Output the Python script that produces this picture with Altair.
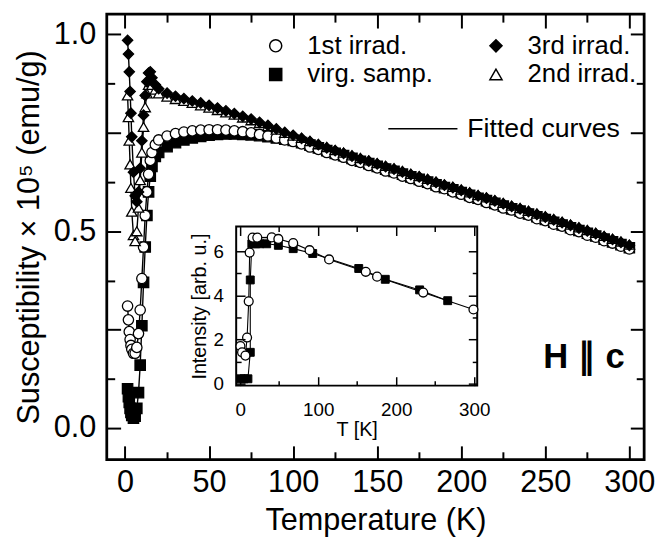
import altair as alt
import pandas as pd

FONT = "Liberation Sans"

# ---------------- main panel data (susceptibility x 1e5, emu/g) ----------------
T_LOW = [1.5, 2, 2.5, 3, 3.5, 4, 5, 6, 7, 8, 9, 10, 11, 12, 13, 14, 15, 16, 18]
T_MID = [20, 25, 30, 35, 40, 45, 50, 55, 60, 65, 70, 75, 80, 85, 90, 95]
T_HIGH = [100, 105, 110, 115, 120, 125, 130, 135, 140, 145, 150, 155, 160, 165,
          170, 175, 180, 185, 190, 195, 200, 205, 210, 215, 220, 225, 230, 235,
          240, 245, 250, 255, 260, 265, 270, 275, 280, 285, 290, 295, 300]

FIRST_LOW = [0.31, 0.275, 0.245, 0.225, 0.21, 0.20, 0.19, 0.19, 0.205, 0.24, 0.30,
             0.38, 0.46, 0.54, 0.60, 0.645, 0.68, 0.70, 0.72]
FIRST_MID = [0.732, 0.742, 0.748, 0.752, 0.755, 0.757, 0.758, 0.758, 0.757, 0.755,
             0.753, 0.75, 0.746, 0.742, 0.737, 0.732]
FIRST_HIGH = [0.728, 0.722, 0.714, 0.708, 0.700, 0.694, 0.688, 0.680, 0.675, 0.667,
              0.661, 0.653, 0.648, 0.640, 0.634, 0.627, 0.621, 0.613, 0.608, 0.600,
              0.594, 0.586, 0.581, 0.573, 0.567, 0.559, 0.554, 0.546, 0.541, 0.532,
              0.527, 0.518, 0.513, 0.504, 0.499, 0.490, 0.485, 0.476, 0.470, 0.462, 0.455]

VIRG_LOW = [0.10, 0.08, 0.065, 0.05, 0.04, 0.032, 0.025, 0.03, 0.05, 0.09, 0.16,
            0.26, 0.37, 0.46, 0.54, 0.60, 0.64, 0.665, 0.69]
VIRG_MID = [0.70, 0.715, 0.725, 0.732, 0.737, 0.741, 0.744, 0.746, 0.747, 0.747,
            0.746, 0.745, 0.743, 0.740, 0.737, 0.734]
VIRG_HIGH = [0.731, 0.725, 0.719, 0.712, 0.705, 0.698, 0.692, 0.685, 0.678, 0.672,
             0.665, 0.658, 0.652, 0.645, 0.638, 0.632, 0.625, 0.618, 0.611, 0.605,
             0.598, 0.591, 0.584, 0.578, 0.571, 0.564, 0.557, 0.551, 0.544, 0.537,
             0.530, 0.523, 0.516, 0.509, 0.502, 0.495, 0.488, 0.480, 0.473, 0.466, 0.458]

THIRD_LOW = [0.985, 0.95, 0.905, 0.855, 0.80, 0.74, 0.65, 0.59, 0.575, 0.60, 0.66,
             0.73, 0.795, 0.845, 0.88, 0.902, 0.905, 0.89, 0.872]
THIRD_MID = [0.862, 0.851, 0.843, 0.837, 0.831, 0.826, 0.82, 0.813, 0.806, 0.799,
             0.792, 0.785, 0.777, 0.769, 0.76, 0.751]
THIRD_HIGH = [0.744, 0.736, 0.728, 0.720, 0.712, 0.705, 0.698, 0.691, 0.684, 0.678,
              0.671, 0.664, 0.658, 0.651, 0.644, 0.638, 0.631, 0.624, 0.617, 0.611,
              0.604, 0.597, 0.590, 0.584, 0.577, 0.570, 0.563, 0.557, 0.550, 0.543,
              0.536, 0.529, 0.522, 0.515, 0.508, 0.501, 0.494, 0.486, 0.479, 0.472, 0.464]

SECOND_LOW = [0.845, 0.79, 0.73, 0.67, 0.61, 0.55, 0.49, 0.475, 0.50, 0.56, 0.63,
              0.70, 0.765, 0.815, 0.85, 0.872, 0.88, 0.872, 0.86]
SECOND_MID = [0.85, 0.842, 0.836, 0.831, 0.826, 0.82, 0.814, 0.808, 0.802, 0.796,
              0.789, 0.782, 0.775, 0.767, 0.758, 0.75]
SECOND_HIGH = [0.743, 0.737, 0.729, 0.721, 0.714, 0.706, 0.700, 0.693, 0.686, 0.680,
               0.673, 0.666, 0.660, 0.653, 0.646, 0.640, 0.633, 0.626, 0.619, 0.613,
               0.606, 0.599, 0.592, 0.586, 0.579, 0.572, 0.565, 0.559, 0.552, 0.545,
               0.538, 0.531, 0.524, 0.517, 0.510, 0.503, 0.496, 0.488, 0.481, 0.474, 0.466]

# legend order (legend fills column by column)
SERIES = ["1st irrad.", "virg. samp.", "3rd irrad.", "2nd irrad."]
SHAPES = ["circle", "square", "diamond", "triangle-up"]
FILLS = ["white", "black", "black", "white"]

# ---------------- inset data (intensity, arb. u.) ----------------
IN_CIRC_T = [0.4, 2.5, 6.8, 8.9, 11, 12.2, 16, 22, 40.5, 49, 68, 89, 114, 161, 175.5, 234.6, 299]
IN_CIRC_I = [1.70, 1.42, 1.27, 2.09, 3.73, 5.94, 6.62, 6.62, 6.63, 6.56, 6.37, 6.05, 5.63,
             5.07, 4.85, 4.13, 3.36]
IN_SQ_T = [1, 5, 10, 13, 13, 15, 20, 25, 34, 49, 68, 93, 152, 186, 230, 266]
IN_SQ_I = [0.22, 0.22, 0.22, 1.42, 4.70, 6.34, 6.34, 6.34, 6.34, 6.27, 6.12, 5.90, 5.22,
           4.73, 4.25, 3.76]

# ticks
X_MAJOR = [0, 50, 100, 150, 200, 250, 300]
X_MINOR = [25, 75, 125, 175, 225, 275]
Y_MAJOR = [0, 0.25, 0.5, 0.75, 1.0]
Y_MINOR = [0.125, 0.375, 0.625, 0.875]
IX_MAJOR = [0, 100, 200, 300]
IX_MINOR = [50, 150, 250]
IY_MAJOR = [0, 2, 4, 6]
IY_MINOR = [1, 3, 5]

# ---------------- tables ----------------
rows = []
T_ALL = T_LOW + T_MID + T_HIGH
for name, lo, mid, hi in [
    ("virg. samp.", VIRG_LOW, VIRG_MID, VIRG_HIGH),
    ("1st irrad.", FIRST_LOW, FIRST_MID, FIRST_HIGH),
    ("2nd irrad.", SECOND_LOW, SECOND_MID, SECOND_HIGH),
    ("3rd irrad.", THIRD_LOW, THIRD_MID, THIRD_HIGH),
]:
    for t, v in zip(T_ALL, lo + mid + hi):
        rows.append({"T": t, "chi": v, "series": name, "fit": "Fitted curves"})
main_df = pd.DataFrame(rows)

irows = []
for i, (t, v) in enumerate(zip(IN_SQ_T, IN_SQ_I)):
    irows.append({"t": t, "v": v, "kind": "sq", "idx": i})
for i, (t, v) in enumerate(zip(IN_CIRC_T, IN_CIRC_I)):
    irows.append({"t": t, "v": v, "kind": "circ", "idx": i})
inset_df = pd.DataFrame(irows)

XI_DOM = [-5.06, 303.8]
YI_DOM = [-0.09, 7.12]
frame_df = pd.DataFrame([{"t": XI_DOM[0], "t2": XI_DOM[1], "v": YI_DOM[0], "v2": YI_DOM[1]}])
hc_df = pd.DataFrame([{"T": 273, "chi": 0.18}])

W, H = 544, 451
XS = alt.Scale(domain=[-10.87, 308.8], nice=False, zero=False)
YS = alt.Scale(domain=[-0.0803, 1.0514], nice=False, zero=False)
XIS = alt.Scale(domain=XI_DOM, range=[131, 375], nice=False, zero=False)
YIS = alt.Scale(domain=YI_DOM, range=[376, 215], nice=False, zero=False)


def ax(orient, values, size, extra=0, width=2, **kw):
    opts = dict(orient=orient, values=values, tickSize=size, offset=-(size + extra),
                domain=False, grid=False, ticks=True, tickColor="black", tickWidth=width,
                zindex=2, labelFlush=False, labelOverlap=False)
    if "title" not in kw:
        opts["title"] = None
    if "labels" not in kw:
        opts["labels"] = False
    opts.update(kw)
    return alt.Axis(**opts)


def MX(axis):
    return alt.X("T:Q", scale=XS, axis=axis)


def MY(axis):
    return alt.Y("chi:Q", scale=YS, axis=axis)


def sym_legend():
    return alt.Legend(title=None, orient="none", legendX=158, legendY=19, columns=2,
                      labelFont=FONT, labelFontSize=26, labelColor="black", labelOffset=19,
                      columnPadding=50, rowPadding=3, symbolSize=150,
                      symbolStrokeWidth=1.5, padding=0, labelLimit=300)


lines = alt.Chart(main_df).mark_line(strokeWidth=1.4).encode(
    x=MX(ax("bottom", X_MAJOR, 14, labels=True, title="Temperature (K)",
            labelFont=FONT, labelFontSize=31, labelColor="black", labelPadding=8,
            titleFont=FONT, titleFontSize=31, titleColor="black", titleFontWeight="normal",
            titlePadding=9)),
    y=MY(ax("left", Y_MAJOR, 14, labels=True, title="Susceptibility × 10⁵ (emu/g)",
            labelExpr="(datum.value == 0 || datum.value == 0.5 || datum.value == 1) ? format(datum.value, '.1f') : ''",
            labelFont=FONT, labelFontSize=31, labelColor="black", labelPadding=11,
            titleFont=FONT, titleFontSize=31, titleColor="black", titleFontWeight="normal",
            titlePadding=8)),
    detail="series:N",
    color=alt.Color("fit:N", scale=alt.Scale(domain=["Fitted curves"], range=["black"]),
                    legend=alt.Legend(title=None, orient="none", legendX=284, legendY=80,
                                      labelFont=FONT, labelFontSize=27, labelColor="black",
                                      labelOffset=9, symbolSize=4900, symbolStrokeWidth=1.5,
                                      padding=0, labelLimit=300)),
)

points = alt.Chart(main_df).mark_point(filled=True, opacity=1, strokeWidth=1.3, size=110).encode(
    x=MX(ax("bottom", X_MINOR, 8)),
    y=MY(ax("left", Y_MINOR, 8)),
    shape=alt.Shape("series:N", scale=alt.Scale(domain=SERIES, range=SHAPES), legend=sym_legend()),
    fill=alt.Fill("series:N", scale=alt.Scale(domain=SERIES, range=FILLS), legend=sym_legend()),
    stroke=alt.Stroke("series:N", scale=alt.Scale(domain=SERIES, range=["black"] * 4),
                      legend=sym_legend()),
)

top_major = alt.Chart(main_df).mark_point(opacity=0).encode(
    x=MX(ax("top", X_MAJOR, 14)), y=MY(ax("right", Y_MAJOR, 14)))
top_minor = alt.Chart(main_df).mark_point(opacity=0).encode(
    x=MX(ax("top", X_MINOR, 8)), y=MY(ax("right", Y_MINOR, 8)))

hc = alt.Chart(hc_df).mark_text(text="H ∥ c", font=FONT, fontSize=35, fontWeight="bold",
                                color="black", align="center", baseline="middle").encode(
    x=alt.X("T:Q", scale=XS, axis=None), y=alt.Y("chi:Q", scale=YS, axis=None))

main = alt.layer(lines, points, top_major, top_minor, hc).resolve_axis(x="independent", y="independent")

# ---------------- inset ----------------
IB = H - 376  # gap between plot bottom and inset bottom
IT = 215
IL = 131
IR = W - 375


def IX(axis):
    return alt.X("t:Q", scale=XIS, axis=axis)


def IY(axis):
    return alt.Y("v:Q", scale=YIS, axis=axis)


frame = alt.Chart(frame_df).mark_rect(fill="white", stroke="black", strokeWidth=2).encode(
    x=IX(ax("bottom", IX_MAJOR, 9, extra=IB, width=1.5, labels=True, title="T [K]",
            labelFont=FONT, labelFontSize=19, labelColor="black", labelPadding=15,
            titleFont=FONT, titleFontSize=20, titleColor="black", titleFontWeight="normal",
            titlePadding=1)),
    x2="t2:Q",
    y=IY(ax("left", IY_MAJOR, 9, extra=IL, width=1.5, labels=True, title="Intensity [arb. u.]",
            labelFont=FONT, labelFontSize=19, labelColor="black", labelPadding=13,
            titleFont=FONT, titleFontSize=20, titleColor="black", titleFontWeight="normal",
            titlePadding=3)),
    y2="v2:Q",
)

inset_lines = alt.Chart(inset_df).mark_line(color="black", strokeWidth=1.1).encode(
    x=IX(ax("bottom", IX_MINOR, 5, extra=IB, width=1.5)),
    y=IY(ax("left", IY_MINOR, 5, extra=IL, width=1.5)),
    detail="kind:N",
    order="idx:Q",
)

inset_sq = alt.Chart(inset_df).transform_filter(alt.datum.kind == "sq").mark_point(
    shape="square", filled=True, fill="black", stroke="black", strokeWidth=1,
    size=64, opacity=1).encode(
    x=IX(ax("top", IX_MAJOR, 9, extra=IT, width=1.5)),
    y=IY(ax("right", IY_MAJOR, 9, extra=IR, width=1.5)),
)

inset_circ = alt.Chart(inset_df).transform_filter(alt.datum.kind == "circ").mark_point(
    shape="circle", filled=True, fill="white", stroke="black", strokeWidth=1.3,
    size=81, opacity=1).encode(
    x=IX(ax("top", IX_MINOR, 5, extra=IT, width=1.5)),
    y=IY(ax("right", IY_MINOR, 5, extra=IR, width=1.5)),
)

inset = alt.layer(frame, inset_lines, inset_sq, inset_circ).resolve_axis(x="independent", y="independent")

chart = alt.layer(main, inset).resolve_scale(x="independent", y="independent").properties(
    width=W, height=H,
    autosize=alt.AutoSizeParams(type="none"),
    padding={"left": 100, "top": 3, "right": 12, "bottom": 78},
).configure_view(stroke="black", strokeWidth=2.8).configure_axis(grid=False)

chart.save("out.html", embed_options={"renderer": "svg", "actions": False})
